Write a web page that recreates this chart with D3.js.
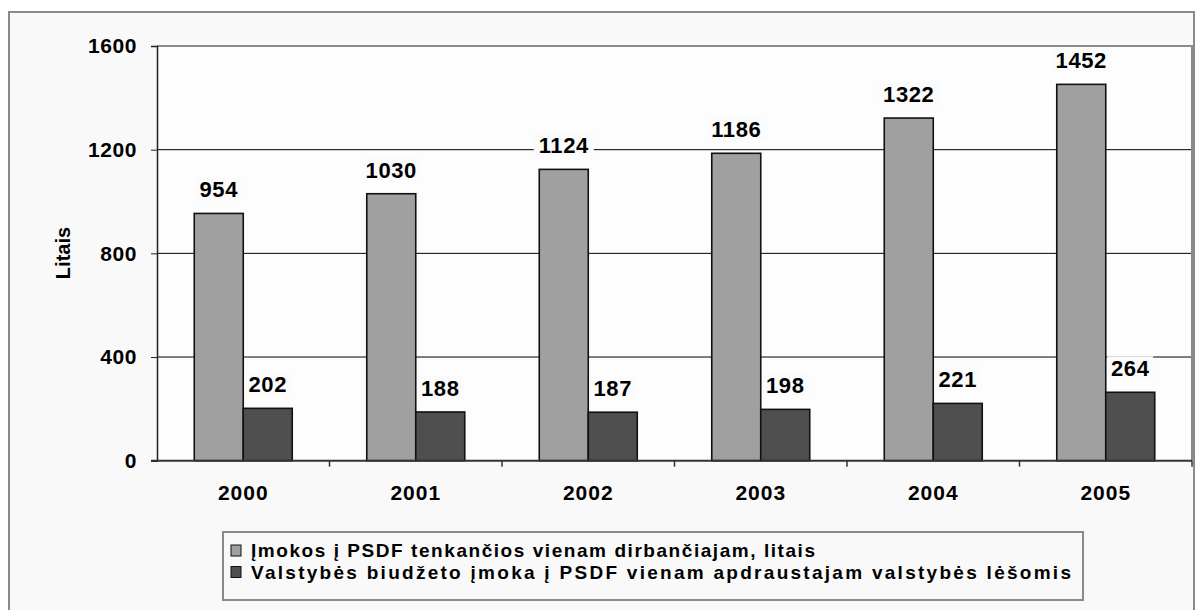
<!doctype html>
<html>
<head>
<meta charset="UTF-8">
<title>PSDF imokos</title>
<script src="https://cdn.jsdelivr.net/npm/d3@7"></script>
<style>
  body { margin: 0; background: #fff; }
  text { font-family: "Liberation Sans", Arial, sans-serif; font-weight: bold; fill: #000; }
  .legend text { font-family: "Liberation Sans Narrow", "Arial Narrow", "Liberation Sans", Arial, sans-serif; }
</style>
</head>
<body>
<div id="chart"></div>
<script>
    var years = ["2000", "2001", "2002", "2003", "2004", "2005"];
    var imokos = [954, 1030, 1124, 1186, 1322, 1452];
    var biudzetas = [202, 188, 187, 198, 221, 264];
    var yTicks = [0, 400, 800, 1200, 1600];
    var seriesNames = [
        "Įmokos į PSDF tenkančios vienam dirbančiajam, litais",
        "Valstybės biudžeto įmoka į PSDF vienam apdraustajam valstybės lėšomis"
    ];
    var colors = ["#a0a0a0", "#4f4f4f"];

    var width = 1197, height = 610;
    var plotL = 157, plotR = 1192, plotT = 46, plotB = 460.7;

    var svg = d3.select("#chart").append("svg")
        .attr("width", width)
        .attr("height", height);

    // outer frame
    svg.append("rect")
        .attr("x", 9).attr("y", 12)
        .attr("width", 1185).attr("height", 620)
        .style("fill", "#f9f9f9")
        .style("stroke", "#8a8a8a")
        .style("stroke-width", 2);

    var x = d3.scaleBand().domain(years).range([plotL, plotR]);
    var y = d3.scaleLinear().domain([0, 1600]).range([plotB, plotT]);

    // plot area
    svg.append("rect")
        .attr("x", plotL).attr("y", plotT)
        .attr("width", plotR - plotL).attr("height", plotB - plotT)
        .style("fill", "#fdfdfd")
        .style("stroke", "none");

    // gridlines
    svg.selectAll(".grid")
        .data(yTicks.filter(function (d) { return d > 0 && d < 1600; }))
        .enter().append("line")
        .attr("x1", plotL).attr("x2", plotR)
        .attr("y1", function (d) { return y(d); })
        .attr("y2", function (d) { return y(d); })
        .style("stroke", "#000")
        .style("stroke-width", 1);

    // top and right border
    svg.append("path")
        .attr("d", "M" + plotL + "," + y(1600) + "H" + plotR + "V" + plotB)
        .style("fill", "none")
        .style("stroke", "#8a8a8a")
        .style("stroke-width", 2);

    // bars
    var bw = x.bandwidth() * 0.284;
    var groups = [imokos, biudzetas];
    groups.forEach(function (vals, s) {
        svg.selectAll(".bar" + s)
            .data(vals)
            .enter().append("rect")
            .attr("class", "bar" + s)
            .attr("x", function (d, i) { return x(years[i]) + x.bandwidth() / 2 - bw + s * bw; })
            .attr("y", function (d) { return y(d); })
            .attr("width", bw)
            .attr("height", function (d) { return plotB - y(d); })
            .style("fill", colors[s])
            .style("stroke", "#111")
            .style("stroke-width", 1.6);
    });

    // y axis
    var yAxis = svg.append("g")
        .attr("transform", "translate(" + plotL + ",0)")
        .call(d3.axisLeft(y).tickValues(yTicks).tickFormat(d3.format("d")).tickSize(6).tickPadding(14));
    yAxis.select(".domain").style("stroke", "#222").style("stroke-width", 1.5);
    yAxis.selectAll(".tick line").style("stroke", "#222");
    yAxis.selectAll("text").style("font-size", "21px").style("letter-spacing", "0.6px");

    // x axis
    var xAxis = svg.append("g")
        .attr("transform", "translate(0," + plotB + ")")
        .call(d3.axisBottom(x).tickSize(0).tickPadding(24));
    xAxis.select(".domain").remove();
    xAxis.selectAll("text").style("font-size", "21px").style("letter-spacing", "1px");
    svg.append("line")
        .attr("x1", plotL - 6).attr("x2", plotR)
        .attr("y1", plotB).attr("y2", plotB)
        .style("stroke", "#333").style("stroke-width", 2);
    svg.selectAll(".xtick")
        .data(years)
        .enter().append("line")
        .attr("x1", function (d) { return x(d) + x.bandwidth(); })
        .attr("x2", function (d) { return x(d) + x.bandwidth(); })
        .attr("y1", plotB).attr("y2", plotB + 6)
        .style("stroke", "#333").style("stroke-width", 1.5);

    // y axis title
    svg.append("text")
        .attr("transform", "translate(70,253) rotate(-90)")
        .attr("text-anchor", "middle")
        .style("font-size", "20px")
        .text("Litais");

    // value labels with background
    groups.forEach(function (vals, s) {
        var g = svg.selectAll(".lab" + s)
            .data(vals)
            .enter().append("g")
            .attr("transform", function (d, i) {
                var cx = x(years[i]) + x.bandwidth() / 2 - bw / 2 + s * bw;
                return "translate(" + cx + "," + (y(d) - 16) + ")";
            });
        g.append("rect")
            .attr("x", function (d) { return -String(d).length * 7 - 2; })
            .attr("y", -20)
            .attr("width", function (d) { return String(d).length * 14 + 4; })
            .attr("height", 23)
            .style("fill", "#fbfbfb");
        g.append("text")
            .attr("text-anchor", "middle")
            .style("font-size", "22px")
            .style("letter-spacing", "0.6px")
            .text(function (d) { return d; });
    });

    // legend
    var legend = svg.append("g").attr("class", "legend");
    legend.append("rect")
        .attr("x", 223).attr("y", 532)
        .attr("width", 860).attr("height", 68)
        .style("fill", "#f9f9f9")
        .style("stroke", "#8a8a8a")
        .style("stroke-width", 2);
    var textLens = [564, 820];
    seriesNames.forEach(function (name, i) {
        var yy = 545 + i * 21.5;
        legend.append("rect")
            .attr("x", 231).attr("y", yy)
            .attr("width", 10).attr("height", 11)
            .style("fill", colors[i])
            .style("stroke", "#111")
            .style("stroke-width", 1);
        legend.append("text")
            .attr("x", 251).attr("y", yy + 12)
            .attr("textLength", textLens[i])
            .attr("lengthAdjust", "spacing")
            .style("font-size", "19px")
            .text(name);
    });
</script>
</body>
</html>
